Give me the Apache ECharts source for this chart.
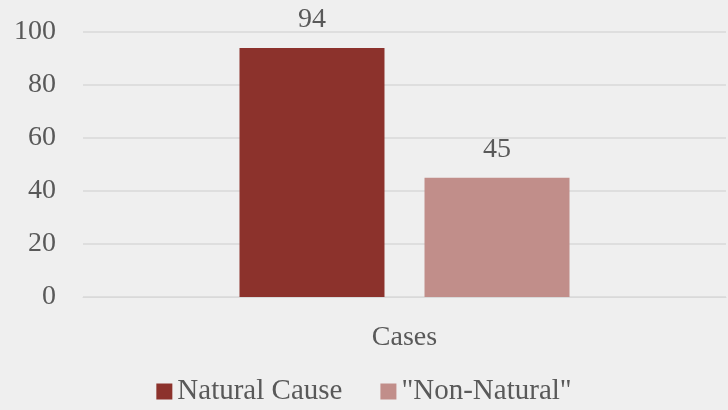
<!DOCTYPE html>
<html><head><meta charset="utf-8">
<script src="https://cdn.jsdelivr.net/npm/echarts@6/dist/echarts.min.js"></script>
<style>html,body{margin:0;padding:0;background:#efefef}#c{width:728px;height:410px}</style>
</head><body><div id="c"></div>
<script>
const categories = ['Cases'];
const seriesNames = ['Natural Cause', '"Non-Natural"'];
const naturalCause = [94];
const nonNatural = [45];
const colors = ['#8c322c', '#c18e8a'];
const font = '"Liberation Serif", "DejaVu Serif", serif';
const chart = echarts.init(document.getElementById('c'));
chart.setOption({
  backgroundColor: '#efefef',
  animation: false,
  textStyle: { fontFamily: font },
  legend: {
    top: 377, left: 'center', itemWidth: 16, itemHeight: 16, itemGap: 38,
    icon: 'rect', padding: 0,
    textStyle: { fontFamily: font, fontSize: 29, color: '#595959' },
    data: seriesNames
  },
  grid: { left: 83, right: 2, top: 32, bottom: 113 },
  xAxis: {
    type: 'category', data: categories,
    axisLine: { show: true, lineStyle: { color: '#d9d9d9' } },
    axisTick: { show: false },
    axisLabel: { fontFamily: font, fontSize: 28, color: '#595959', margin: 27 }
  },
  yAxis: {
    type: 'value', min: 0, max: 100, interval: 20,
    axisLine: { show: false }, axisTick: { show: false },
    splitLine: { lineStyle: { color: '#d9d9d9', width: 1.5 } },
    axisLabel: { fontFamily: font, fontSize: 28, color: '#595959', margin: 27 }
  },
  series: [
    { name: seriesNames[0], type: 'bar', data: naturalCause, barWidth: 145, barGap: '27.6%',
      itemStyle: { color: colors[0] },
      label: { show: true, position: 'top', distance: 14, fontFamily: font, fontSize: 28, color: '#595959' } },
    { name: seriesNames[1], type: 'bar', data: nonNatural, barWidth: 145,
      itemStyle: { color: colors[1] },
      label: { show: true, position: 'top', distance: 14, fontFamily: font, fontSize: 28, color: '#595959' } }
  ]
});
</script></body></html>
